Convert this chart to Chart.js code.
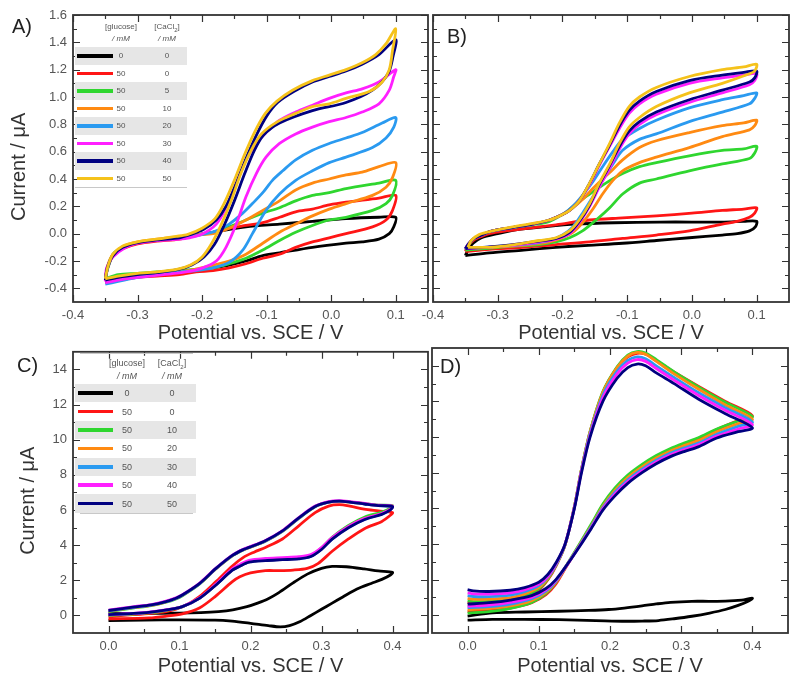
<!DOCTYPE html>
<html>
<head>
<meta charset="utf-8">
<script src="https://cdn.jsdelivr.net/npm/chart.js@4.4.1/dist/chart.umd.min.js"></script>
<style>
  body { margin: 0; background: #fff; width: 800px; height: 685px; position: relative; overflow: hidden; font-family: "Liberation Sans", Arial, sans-serif; }
  canvas { position: absolute; }
  .lbl { position: absolute; font-size: 20px; line-height: 20px; color: #222; z-index: 5; }
</style>
</head>
<body>
<canvas id="grafico_A" width="440" height="345" style="left:0;top:0"></canvas>
<canvas id="grafico_B" width="385" height="345" style="left:415px;top:0"></canvas>
<canvas id="grafico_C" width="440" height="347" style="left:0;top:338px"></canvas>
<canvas id="grafico_D" width="385" height="347" style="left:415px;top:338px"></canvas>
<div class="lbl" style="left:12px;top:16px">A)</div>
<div class="lbl" style="left:447px;top:26px">B)</div>
<div class="lbl" style="left:17px;top:355px">C)</div>
<div class="lbl" style="left:440px;top:356px">D)</div>
<script>
// ---- ticks ----
const xTicksAB = [-0.4, -0.3, -0.2, -0.1, 0.0, 0.1];
const yTicksAB = [-0.4, -0.2, 0.0, 0.2, 0.4, 0.6, 0.8, 1.0, 1.2, 1.4, 1.6];
const xTicksCD = [0.0, 0.1, 0.2, 0.3, 0.4];
const yTicksCD = [0, 2, 4, 6, 8, 10, 12, 14];

// ---- legend text ----
const legGlucoseA = ['0', '50', '50', '50', '50', '50', '50', '50'];
const legCaClA = ['0', '0', '5', '10', '20', '30', '40', '50'];
const legGlucoseC = ['0', '50', '50', '50', '50', '50', '50'];
const legCaClC = ['0', '0', '10', '20', '30', '40', '50'];

// ---- panel A: [potential V, current uA] ----
const A_black = [[-0.35,-0.33],[-0.346,-0.25],[-0.338,-0.16],[-0.323,-0.10],[-0.30,-0.065],[-0.27,-0.045],[-0.235,-0.03],[-0.183,0.01],[-0.132,0.05],[-0.08,0.07],[-0.029,0.09],[0.023,0.11],[0.074,0.12],[0.1,0.12],
  [0.097,0.05],[0.09,0.0],[0.074,-0.04],[0.048,-0.06],[0.023,-0.07],[-0.029,-0.10],[-0.08,-0.14],[-0.106,-0.16],[-0.132,-0.20],[-0.158,-0.23],[-0.183,-0.25],[-0.209,-0.27],[-0.235,-0.28],[-0.27,-0.30],[-0.30,-0.31],[-0.33,-0.33],[-0.35,-0.35]];
const A_red = [[-0.35,-0.34],[-0.346,-0.24],[-0.338,-0.16],[-0.323,-0.11],[-0.30,-0.075],[-0.27,-0.055],[-0.235,-0.04],[-0.209,-0.01],[-0.183,0.01],[-0.158,0.04],[-0.132,0.06],[-0.106,0.08],[-0.08,0.12],[-0.055,0.16],[-0.029,0.18],[-0.003,0.21],[0.023,0.23],[0.074,0.26],[0.1,0.28],
  [0.095,0.17],[0.085,0.10],[0.064,0.05],[0.023,0.0],[-0.003,-0.03],[-0.029,-0.06],[-0.055,-0.10],[-0.08,-0.15],[-0.106,-0.18],[-0.132,-0.22],[-0.158,-0.25],[-0.183,-0.27],[-0.209,-0.28],[-0.235,-0.30],[-0.27,-0.31],[-0.30,-0.32],[-0.33,-0.34],[-0.35,-0.36]];
const A_green = [[-0.35,-0.33],[-0.346,-0.24],[-0.338,-0.15],[-0.323,-0.10],[-0.30,-0.065],[-0.27,-0.045],[-0.235,-0.03],[-0.209,-0.01],[-0.183,0.01],[-0.158,0.05],[-0.132,0.10],[-0.106,0.15],[-0.08,0.19],[-0.055,0.24],[-0.029,0.28],[-0.003,0.30],[0.023,0.33],[0.074,0.37],[0.1,0.39],
  [0.095,0.28],[0.085,0.22],[0.064,0.17],[0.023,0.12],[-0.003,0.10],[-0.029,0.06],[-0.055,0.01],[-0.08,-0.05],[-0.106,-0.12],[-0.132,-0.18],[-0.158,-0.22],[-0.183,-0.25],[-0.209,-0.26],[-0.235,-0.27],[-0.27,-0.28],[-0.30,-0.29],[-0.33,-0.30],[-0.35,-0.33]];
const A_orange = [[-0.35,-0.33],[-0.346,-0.23],[-0.338,-0.15],[-0.323,-0.095],[-0.30,-0.06],[-0.27,-0.04],[-0.235,-0.025],[-0.209,-0.01],[-0.183,0.0],[-0.158,0.04],[-0.132,0.10],[-0.106,0.17],[-0.08,0.24],[-0.055,0.32],[-0.029,0.37],[-0.003,0.40],[0.023,0.43],[0.048,0.45],[0.074,0.49],[0.1,0.52],
  [0.095,0.41],[0.085,0.34],[0.064,0.28],[0.023,0.22],[-0.003,0.18],[-0.029,0.13],[-0.055,0.07],[-0.08,0.01],[-0.106,-0.07],[-0.132,-0.15],[-0.158,-0.20],[-0.183,-0.23],[-0.209,-0.26],[-0.235,-0.28],[-0.27,-0.295],[-0.30,-0.31],[-0.33,-0.33],[-0.35,-0.35]];
const A_blue = [[-0.35,-0.34],[-0.346,-0.24],[-0.338,-0.16],[-0.323,-0.10],[-0.30,-0.065],[-0.27,-0.045],[-0.235,-0.03],[-0.204,-0.01],[-0.178,0.02],[-0.158,0.07],[-0.137,0.15],[-0.122,0.22],[-0.106,0.30],[-0.091,0.39],[-0.075,0.46],[-0.055,0.54],[-0.029,0.61],[-0.003,0.66],[0.023,0.70],[0.048,0.74],[0.079,0.81],[0.1,0.85],
  [0.097,0.78],[0.085,0.70],[0.064,0.63],[0.023,0.56],[-0.003,0.52],[-0.029,0.46],[-0.055,0.39],[-0.08,0.29],[-0.101,0.17],[-0.122,0.0],[-0.137,-0.12],[-0.158,-0.21],[-0.183,-0.25],[-0.209,-0.27],[-0.235,-0.28],[-0.27,-0.30],[-0.30,-0.32],[-0.33,-0.35],[-0.35,-0.37]];
const A_magenta = [[-0.35,-0.35],[-0.348,-0.25],[-0.338,-0.17],[-0.318,-0.10],[-0.30,-0.07],[-0.27,-0.05],[-0.235,-0.04],[-0.22,-0.03],[-0.199,0.0],[-0.178,0.07],[-0.163,0.19],[-0.147,0.37],[-0.132,0.54],[-0.116,0.66],[-0.101,0.74],[-0.08,0.83],[-0.055,0.89],[-0.029,0.94],[-0.003,0.99],[0.023,1.03],[0.048,1.06],[0.074,1.11],[0.1,1.20],
  [0.097,1.15],[0.09,1.05],[0.074,0.95],[0.048,0.89],[0.023,0.85],[-0.003,0.82],[-0.029,0.78],[-0.055,0.73],[-0.08,0.66],[-0.101,0.56],[-0.116,0.44],[-0.132,0.27],[-0.147,0.07],[-0.163,-0.10],[-0.178,-0.20],[-0.199,-0.25],[-0.225,-0.28],[-0.26,-0.30],[-0.30,-0.32],[-0.33,-0.34],[-0.35,-0.36]];
const A_navy = [[-0.35,-0.34],[-0.347,-0.25],[-0.338,-0.16],[-0.323,-0.10],[-0.30,-0.065],[-0.27,-0.045],[-0.235,-0.03],[-0.22,-0.01],[-0.198,0.03],[-0.178,0.10],[-0.163,0.20],[-0.147,0.37],[-0.132,0.55],[-0.116,0.72],[-0.1,0.86],[-0.083,0.96],[-0.058,1.04],[-0.029,1.11],[-0.003,1.15],[0.023,1.19],[0.048,1.24],[0.074,1.31],[0.1,1.42],
  [0.096,1.30],[0.088,1.17],[0.064,1.05],[0.023,0.96],[-0.029,0.90],[-0.08,0.81],[-0.105,0.72],[-0.119,0.61],[-0.134,0.44],[-0.15,0.24],[-0.166,0.06],[-0.181,-0.08],[-0.197,-0.17],[-0.216,-0.23],[-0.235,-0.26],[-0.27,-0.285],[-0.30,-0.30],[-0.33,-0.32],[-0.35,-0.34]];
const A_yellow = [[-0.35,-0.33],[-0.346,-0.24],[-0.338,-0.15],[-0.323,-0.09],[-0.30,-0.06],[-0.27,-0.04],[-0.24,-0.02],[-0.222,-0.005],[-0.2,0.04],[-0.18,0.11],[-0.166,0.22],[-0.15,0.39],[-0.135,0.57],[-0.119,0.74],[-0.102,0.88],[-0.084,0.97],[-0.06,1.05],[-0.029,1.12],[-0.003,1.16],[0.023,1.20],[0.048,1.25],[0.069,1.31],[0.085,1.39],[0.1,1.50],
  [0.095,1.34],[0.09,1.20],[0.079,1.11],[0.059,1.04],[0.023,0.99],[-0.003,0.95],[-0.029,0.93],[-0.055,0.88],[-0.083,0.82],[-0.108,0.73],[-0.124,0.61],[-0.14,0.44],[-0.155,0.24],[-0.17,0.07],[-0.185,-0.07],[-0.2,-0.17],[-0.218,-0.23],[-0.238,-0.26],[-0.27,-0.28],[-0.30,-0.29],[-0.33,-0.31],[-0.35,-0.33]];

// ---- panel B ----
const B_black = [[-0.35,-0.16],[-0.345,-0.11],[-0.338,-0.07],[-0.325,-0.03],[-0.30,0.0],[-0.27,0.03],[-0.23,0.05],[-0.18,0.07],[-0.12,0.08],[-0.05,0.085],[0.0,0.085],[0.05,0.085],[0.08,0.09],[0.1,0.09],
  [0.098,0.05],[0.089,0.02],[0.07,0.0],[0.047,-0.01],[-0.004,-0.03],[-0.055,-0.05],[-0.107,-0.07],[-0.16,-0.085],[-0.21,-0.10],[-0.26,-0.12],[-0.313,-0.14],[-0.35,-0.16]];
const B_red = [[-0.35,-0.13],[-0.346,-0.09],[-0.338,-0.05],[-0.325,-0.02],[-0.313,0.0],[-0.287,0.02],[-0.261,0.035],[-0.21,0.065],[-0.158,0.10],[-0.107,0.115],[-0.055,0.13],[0.0,0.15],[0.047,0.17],[0.08,0.18],[0.1,0.19],
  [0.097,0.15],[0.089,0.12],[0.07,0.09],[0.047,0.07],[-0.004,0.02],[-0.055,-0.01],[-0.107,-0.035],[-0.158,-0.06],[-0.21,-0.08],[-0.261,-0.10],[-0.313,-0.115],[-0.35,-0.13]];
const B_green = [[-0.35,-0.12],[-0.346,-0.09],[-0.338,-0.04],[-0.325,-0.01],[-0.308,0.02],[-0.277,0.045],[-0.246,0.065],[-0.22,0.09],[-0.194,0.16],[-0.179,0.22],[-0.158,0.29],[-0.133,0.37],[-0.107,0.44],[-0.081,0.49],[-0.055,0.52],[-0.004,0.57],[0.047,0.61],[0.08,0.62],[0.1,0.64],
  [0.097,0.59],[0.089,0.55],[0.047,0.51],[-0.004,0.46],[-0.055,0.40],[-0.081,0.37],[-0.107,0.29],[-0.127,0.19],[-0.148,0.10],[-0.169,0.02],[-0.189,-0.03],[-0.21,-0.06],[-0.236,-0.08],[-0.27,-0.09],[-0.31,-0.105],[-0.35,-0.12]];
const B_orange = [[-0.35,-0.11],[-0.346,-0.08],[-0.338,-0.04],[-0.325,-0.01],[-0.308,0.02],[-0.277,0.045],[-0.246,0.07],[-0.22,0.10],[-0.2,0.14],[-0.184,0.19],[-0.169,0.25],[-0.153,0.33],[-0.138,0.40],[-0.122,0.47],[-0.107,0.54],[-0.081,0.63],[-0.055,0.68],[-0.004,0.74],[0.047,0.79],[0.08,0.81],[0.1,0.83],
  [0.097,0.79],[0.089,0.76],[0.047,0.71],[-0.004,0.63],[-0.055,0.56],[-0.081,0.52],[-0.107,0.46],[-0.122,0.39],[-0.138,0.29],[-0.153,0.18],[-0.169,0.08],[-0.184,0.01],[-0.2,-0.03],[-0.22,-0.06],[-0.25,-0.08],[-0.29,-0.095],[-0.35,-0.11]];
const B_blue = [[-0.35,-0.11],[-0.346,-0.08],[-0.338,-0.04],[-0.325,-0.01],[-0.308,0.02],[-0.277,0.045],[-0.246,0.07],[-0.22,0.10],[-0.2,0.14],[-0.184,0.20],[-0.169,0.28],[-0.153,0.38],[-0.138,0.49],[-0.122,0.60],[-0.107,0.69],[-0.081,0.77],[-0.055,0.83],[-0.004,0.92],[0.047,0.98],[0.08,1.01],[0.1,1.03],
  [0.097,0.99],[0.089,0.95],[0.047,0.89],[-0.004,0.82],[-0.055,0.73],[-0.081,0.69],[-0.107,0.61],[-0.122,0.51],[-0.138,0.39],[-0.153,0.27],[-0.169,0.15],[-0.184,0.05],[-0.2,-0.01],[-0.22,-0.05],[-0.25,-0.075],[-0.29,-0.09],[-0.35,-0.11]];
const B_magenta = [[-0.35,-0.11],[-0.346,-0.08],[-0.338,-0.04],[-0.325,-0.01],[-0.308,0.02],[-0.277,0.045],[-0.246,0.07],[-0.22,0.10],[-0.2,0.14],[-0.189,0.17],[-0.174,0.24],[-0.158,0.36],[-0.143,0.50],[-0.127,0.64],[-0.112,0.77],[-0.097,0.88],[-0.081,0.95],[-0.055,1.02],[-0.004,1.10],[0.047,1.14],[0.08,1.16],[0.1,1.17],
  [0.097,1.12],[0.089,1.09],[0.047,1.03],[-0.004,0.96],[-0.055,0.87],[-0.081,0.80],[-0.097,0.73],[-0.112,0.62],[-0.127,0.48],[-0.143,0.34],[-0.158,0.20],[-0.174,0.08],[-0.189,0.0],[-0.21,-0.04],[-0.236,-0.06],[-0.287,-0.09],[-0.35,-0.11]];
const B_navy = [[-0.35,-0.11],[-0.346,-0.08],[-0.338,-0.04],[-0.325,-0.01],[-0.308,0.02],[-0.277,0.045],[-0.246,0.07],[-0.22,0.10],[-0.2,0.14],[-0.189,0.17],[-0.174,0.24],[-0.158,0.37],[-0.143,0.51],[-0.127,0.65],[-0.112,0.79],[-0.097,0.90],[-0.081,0.97],[-0.055,1.04],[-0.004,1.12],[0.047,1.16],[0.08,1.18],[0.1,1.19],
  [0.097,1.14],[0.089,1.11],[0.047,1.05],[-0.004,0.98],[-0.055,0.89],[-0.081,0.82],[-0.097,0.75],[-0.112,0.64],[-0.127,0.50],[-0.143,0.36],[-0.158,0.21],[-0.174,0.09],[-0.189,0.01],[-0.21,-0.035],[-0.236,-0.055],[-0.287,-0.085],[-0.35,-0.11]];
const B_yellow = [[-0.346,-0.10],[-0.341,-0.05],[-0.328,-0.005],[-0.308,0.02],[-0.277,0.05],[-0.246,0.075],[-0.22,0.10],[-0.2,0.14],[-0.189,0.17],[-0.174,0.24],[-0.158,0.37],[-0.143,0.51],[-0.127,0.66],[-0.112,0.81],[-0.097,0.93],[-0.081,1.00],[-0.055,1.07],[-0.004,1.15],[0.047,1.20],[0.08,1.22],[0.1,1.24],
  [0.097,1.19],[0.089,1.17],[0.047,1.10],[-0.004,1.03],[-0.055,0.93],[-0.081,0.85],[-0.097,0.78],[-0.112,0.66],[-0.127,0.51],[-0.143,0.37],[-0.158,0.22],[-0.174,0.10],[-0.189,0.02],[-0.21,-0.03],[-0.236,-0.05],[-0.287,-0.09],[-0.313,-0.10],[-0.346,-0.10]];

// ---- panel C ----
const C_black = [[0,0.1],[0.05,0.12],[0.1,0.13],[0.13,0.16],[0.155,0.22],[0.175,0.32],[0.195,0.5],[0.21,0.7],[0.225,0.95],[0.24,1.3],[0.26,1.85],[0.28,2.35],[0.3,2.68],[0.315,2.79],[0.335,2.77],[0.36,2.65],[0.38,2.53],[0.4,2.45],
  [0.397,2.3],[0.385,2.05],[0.37,1.82],[0.35,1.5],[0.33,1.05],[0.315,0.7],[0.3,0.35],[0.285,0.0],[0.27,-0.35],[0.255,-0.58],[0.242,-0.65],[0.225,-0.58],[0.2,-0.45],[0.174,-0.33],[0.15,-0.27],[0.1,-0.25],[0.05,-0.26],[0,-0.3]];
const C_red = [[0,-0.05],[0.034,0.04],[0.06,0.12],[0.081,0.22],[0.095,0.35],[0.11,0.6],[0.128,1.07],[0.151,1.91],[0.174,2.8],[0.19,3.3],[0.205,3.6],[0.221,3.87],[0.245,4.35],[0.268,5.1],[0.291,5.85],[0.31,6.22],[0.325,6.3],[0.34,6.22],[0.36,6.05],[0.38,5.95],[0.4,5.85],
  [0.397,5.7],[0.385,5.35],[0.361,4.95],[0.338,4.35],[0.315,3.65],[0.295,2.95],[0.28,2.68],[0.26,2.58],[0.24,2.55],[0.221,2.55],[0.2,2.42],[0.185,2.2],[0.174,1.91],[0.151,1.1],[0.128,0.42],[0.104,0.09],[0.08,-0.05],[0.057,-0.14],[0,-0.2]];
const C_green = [[0,0.22],[0.034,0.42],[0.06,0.56],[0.081,0.75],[0.095,0.94],[0.104,1.12],[0.128,1.78],[0.151,2.64],[0.174,3.38],[0.19,3.73],[0.198,3.85],[0.221,4.22],[0.245,4.78],[0.268,5.52],[0.291,6.18],[0.31,6.44],[0.325,6.5],[0.34,6.46],[0.361,6.36],[0.38,6.28],[0.4,6.25],
  [0.397,6.1],[0.385,5.88],[0.361,5.6],[0.338,5.12],[0.315,4.45],[0.3,3.85],[0.285,3.42],[0.268,3.3],[0.245,3.24],[0.221,3.18],[0.198,3.08],[0.185,2.85],[0.174,2.6],[0.151,1.75],[0.128,0.98],[0.104,0.5],[0.08,0.28],[0.057,0.14],[0.03,0.06],[0,0.0]];
const C_orange = [[0,0.24],[0.034,0.44],[0.06,0.57],[0.081,0.77],[0.095,0.96],[0.104,1.14],[0.128,1.8],[0.151,2.65],[0.174,3.39],[0.19,3.74],[0.198,3.86],[0.221,4.23],[0.245,4.8],[0.268,5.54],[0.291,6.19],[0.31,6.44],[0.325,6.49],[0.34,6.45],[0.361,6.35],[0.38,6.26],[0.4,6.22],
  [0.397,6.05],[0.385,5.8],[0.361,5.52],[0.338,5.05],[0.315,4.4],[0.3,3.8],[0.285,3.38],[0.268,3.26],[0.245,3.2],[0.221,3.15],[0.198,3.05],[0.185,2.82],[0.174,2.58],[0.151,1.74],[0.128,0.98],[0.104,0.5],[0.08,0.29],[0.057,0.16],[0.03,0.08],[0,0.02]];
const C_blue = [[0,0.26],[0.034,0.45],[0.06,0.59],[0.081,0.78],[0.095,0.97],[0.104,1.15],[0.128,1.8],[0.151,2.66],[0.174,3.4],[0.19,3.75],[0.198,3.87],[0.221,4.24],[0.245,4.8],[0.268,5.54],[0.291,6.2],[0.31,6.45],[0.325,6.5],[0.34,6.45],[0.361,6.34],[0.38,6.25],[0.4,6.2],
  [0.397,6.02],[0.385,5.77],[0.361,5.48],[0.338,5.01],[0.315,4.36],[0.3,3.77],[0.285,3.36],[0.268,3.24],[0.245,3.19],[0.221,3.14],[0.198,3.04],[0.185,2.81],[0.174,2.57],[0.151,1.73],[0.128,0.97],[0.104,0.5],[0.08,0.3],[0.057,0.17],[0.03,0.09],[0,0.03]];
const C_magenta = [[0,0.3],[0.034,0.49],[0.06,0.62],[0.081,0.81],[0.095,1.0],[0.104,1.18],[0.128,1.83],[0.151,2.68],[0.174,3.42],[0.19,3.77],[0.198,3.89],[0.221,4.27],[0.245,4.83],[0.268,5.57],[0.291,6.22],[0.31,6.48],[0.325,6.53],[0.34,6.48],[0.361,6.37],[0.38,6.27],[0.4,6.22],
  [0.397,6.04],[0.385,5.8],[0.361,5.52],[0.338,5.06],[0.315,4.43],[0.3,3.86],[0.285,3.46],[0.268,3.34],[0.245,3.29],[0.221,3.24],[0.198,3.13],[0.185,2.9],[0.174,2.64],[0.151,1.77],[0.128,0.99],[0.104,0.51],[0.08,0.31],[0.057,0.18],[0.03,0.11],[0,0.05]];
const C_navy = [[0,0.28],[0.034,0.47],[0.06,0.6],[0.081,0.79],[0.095,0.98],[0.104,1.16],[0.128,1.81],[0.151,2.66],[0.174,3.4],[0.19,3.75],[0.198,3.87],[0.221,4.25],[0.245,4.81],[0.268,5.55],[0.291,6.2],[0.31,6.45],[0.325,6.5],[0.34,6.45],[0.361,6.34],[0.38,6.25],[0.4,6.2],
  [0.397,6.0],[0.385,5.75],[0.361,5.46],[0.338,4.99],[0.315,4.34],[0.3,3.75],[0.285,3.35],[0.268,3.22],[0.245,3.17],[0.221,3.12],[0.198,3.03],[0.185,2.8],[0.174,2.56],[0.151,1.72],[0.128,0.97],[0.104,0.5],[0.08,0.3],[0.057,0.17],[0.03,0.1],[0,0.04]];

// ---- panel D ----
const D_black = [[0,-0.05],[0.035,0.13],[0.08,0.18],[0.128,0.22],[0.17,0.27],[0.198,0.32],[0.22,0.4],[0.245,0.52],[0.265,0.63],[0.285,0.72],[0.315,0.78],[0.34,0.78],[0.362,0.79],[0.385,0.85],[0.4,0.95],
  [0.394,0.78],[0.38,0.55],[0.362,0.32],[0.34,0.12],[0.315,-0.06],[0.29,-0.2],[0.268,-0.3],[0.245,-0.33],[0.222,-0.34],[0.18,-0.3],[0.128,-0.25],[0.08,-0.24],[0.035,-0.24],[0,-0.28]];
const D_red = [[0,0.7],[0.008,0.66],[0.03,0.68],[0.06,0.8],[0.08,1.02],[0.1,1.42],[0.113,2.0],[0.125,2.83],[0.137,3.95],[0.15,6.08],[0.16,8.18],[0.172,10.28],[0.19,12.5],[0.21,13.9],[0.225,14.5],[0.238,14.7],[0.25,14.65],[0.265,14.3],[0.29,13.65],[0.324,12.85],[0.362,12.0],[0.4,11.2],
  [0.38,10.92],[0.35,10.42],[0.324,9.92],[0.305,9.62],[0.285,9.3],[0.265,8.9],[0.245,8.4],[0.225,7.8],[0.207,7.08],[0.19,6.18],[0.175,5.14],[0.158,4.0],[0.14,2.82],[0.124,1.75],[0.11,1.15],[0.09,0.7],[0.06,0.4],[0.03,0.26],[0,0.2]];
const D_green = [[0,0.8],[0.008,0.76],[0.03,0.77],[0.06,0.88],[0.08,1.1],[0.1,1.48],[0.113,2.05],[0.125,2.86],[0.137,3.97],[0.15,6.1],[0.16,8.2],[0.172,10.3],[0.19,12.55],[0.21,13.95],[0.225,14.6],[0.238,14.8],[0.25,14.72],[0.265,14.35],[0.29,13.65],[0.324,12.82],[0.362,11.95],[0.4,11.15],
  [0.38,10.9],[0.35,10.45],[0.324,9.96],[0.305,9.68],[0.285,9.36],[0.265,8.96],[0.245,8.46],[0.225,7.86],[0.207,7.14],[0.19,6.24],[0.175,5.2],[0.158,4.05],[0.14,2.88],[0.124,1.85],[0.11,1.22],[0.09,0.72],[0.06,0.38],[0.03,0.2],[0,0.12]];
const D_orange = [[0,0.95],[0.008,0.9],[0.03,0.9],[0.06,0.98],[0.08,1.2],[0.1,1.56],[0.113,2.1],[0.125,2.88],[0.137,3.97],[0.15,6.1],[0.16,8.2],[0.172,10.3],[0.19,12.5],[0.21,13.9],[0.225,14.55],[0.238,14.75],[0.25,14.65],[0.265,14.25],[0.29,13.55],[0.324,12.7],[0.362,11.8],[0.4,11.0],
  [0.38,10.75],[0.35,10.3],[0.324,9.8],[0.305,9.53],[0.285,9.22],[0.265,8.82],[0.245,8.32],[0.225,7.72],[0.207,7.0],[0.19,6.12],[0.175,5.1],[0.158,3.98],[0.14,2.84],[0.124,1.85],[0.11,1.28],[0.09,0.82],[0.06,0.52],[0.03,0.38],[0,0.3]];
const D_blue = [[0,1.1],[0.008,1.05],[0.03,1.04],[0.06,1.12],[0.08,1.32],[0.1,1.66],[0.113,2.15],[0.125,2.9],[0.137,3.98],[0.15,6.05],[0.16,8.15],[0.172,10.2],[0.19,12.35],[0.21,13.7],[0.225,14.3],[0.238,14.5],[0.25,14.4],[0.265,14.0],[0.29,13.35],[0.324,12.5],[0.362,11.65],[0.4,10.85],
  [0.38,10.6],[0.35,10.15],[0.324,9.66],[0.305,9.4],[0.285,9.1],[0.265,8.7],[0.245,8.2],[0.225,7.6],[0.207,6.9],[0.19,6.04],[0.175,5.05],[0.158,3.95],[0.14,2.84],[0.124,1.9],[0.11,1.35],[0.09,0.92],[0.06,0.62],[0.03,0.48],[0,0.42]];
const D_magenta = [[0,1.25],[0.008,1.2],[0.03,1.18],[0.06,1.25],[0.08,1.42],[0.1,1.75],[0.113,2.2],[0.125,2.95],[0.137,4.0],[0.15,6.05],[0.16,8.1],[0.172,10.1],[0.19,12.2],[0.21,13.55],[0.225,14.15],[0.238,14.35],[0.25,14.25],[0.265,13.85],[0.29,13.2],[0.324,12.35],[0.362,11.5],[0.4,10.7],
  [0.38,10.45],[0.35,10.05],[0.324,9.56],[0.305,9.3],[0.285,9.0],[0.265,8.6],[0.245,8.1],[0.225,7.5],[0.207,6.8],[0.19,5.97],[0.175,5.0],[0.158,3.92],[0.14,2.84],[0.124,1.95],[0.11,1.42],[0.09,1.0],[0.06,0.72],[0.03,0.57],[0,0.5]];
const D_navy = [[0,1.43],[0.008,1.36],[0.03,1.33],[0.06,1.4],[0.08,1.55],[0.1,1.85],[0.113,2.3],[0.125,3.0],[0.137,4.0],[0.15,6.0],[0.16,8.0],[0.172,10.0],[0.19,12.0],[0.21,13.3],[0.225,13.9],[0.238,14.1],[0.25,14.0],[0.265,13.6],[0.29,13.0],[0.324,12.14],[0.362,11.31],[0.4,10.52],
  [0.38,10.3],[0.35,9.95],[0.324,9.45],[0.305,9.2],[0.285,8.9],[0.265,8.5],[0.245,8.0],[0.225,7.4],[0.207,6.7],[0.19,5.9],[0.175,4.95],[0.158,3.9],[0.14,2.85],[0.124,2.0],[0.11,1.5],[0.09,1.1],[0.06,0.85],[0.03,0.7],[0,0.62]];

const coloresAB = ['#000000', '#ff1515', '#2fd62f', '#ff8a12', '#2a9af0', '#ff1fff', '#000080', '#f5c21b'];
const coloresCD = coloresAB.slice(0, 7);

Chart.defaults.font.family = "'Liberation Sans', Arial, sans-serif";

// marcos y ticks hacia adentro en los cuatro lados
const marcoTicks = {
    id: 'marcoTicks',
    afterDraw(chart, args, opts) {
        const { ctx, chartArea: a, scales: { x, y } } = chart;
        const mid = arr => arr.slice(1).map((v, i) => (v + arr[i]) / 2);
        ctx.save();
        ctx.strokeStyle = '#333';
        ctx.lineWidth = 1.2;
        ctx.beginPath();
        const tx = (v, len) => {
            const p = Math.round(x.getPixelForValue(v)) + 0.5;
            ctx.moveTo(p, a.bottom); ctx.lineTo(p, a.bottom - len);
            ctx.moveTo(p, a.top); ctx.lineTo(p, a.top + len);
        };
        const ty = (v, len) => {
            const p = Math.round(y.getPixelForValue(v)) + 0.5;
            ctx.moveTo(a.left, p); ctx.lineTo(a.left + len, p);
            ctx.moveTo(a.right, p); ctx.lineTo(a.right - len, p);
        };
        opts.xMajor.forEach(v => tx(v, 7));
        mid(opts.xMajor).forEach(v => tx(v, 4));
        opts.yMajor.forEach(v => ty(v, 7));
        mid(opts.yMajor).forEach(v => ty(v, 4));
        ctx.stroke();
        ctx.lineWidth = 1.8;
        ctx.strokeRect(a.left, a.top, a.right - a.left, a.bottom - a.top);
        ctx.restore();
    }
};

function puntos(arr) {
    return arr.map(p => ({ x: p[0], y: p[1] }));
}

function panel(id, curvas, colores, c) {
    new Chart(document.getElementById(id), {
        type: 'scatter',
        data: {
            datasets: curvas.map((cv, i) => ({
                data: puntos(cv),
                borderColor: colores[i],
                backgroundColor: colores[i],
                showLine: true,
                pointRadius: 0,
                borderWidth: 2.8,
                tension: 0.3,
                fill: false,
                order: curvas.length - i   // la ultima serie queda arriba
            }))
        },
        plugins: [marcoTicks],
        options: {
            responsive: false,
            animation: false,
            devicePixelRatio: 1,
            events: [],
            layout: { padding: { left: 0, top: c.padTop, right: c.padRight, bottom: 0 } },
            plugins: {
                legend: { display: false },
                tooltip: { enabled: false },
                marcoTicks: { xMajor: c.xTicks, yMajor: c.yTicks }
            },
            scales: {
                x: {
                    type: 'linear',
                    min: c.xMin, max: c.xMax,
                    afterBuildTicks: s => { s.ticks = c.xTicks.map(v => ({ value: v })); },
                    afterFit: s => { s.height = c.xH; },
                    grid: { display: false, drawTicks: false },
                    border: { display: false },
                    ticks: { color: '#555', font: { size: 13 }, padding: 6, maxRotation: 0, autoSkip: false,
                             callback: v => v.toFixed(1) },
                    title: { display: true, text: 'Potential vs. SCE / V', color: '#333',
                             font: { size: 20 }, padding: { top: 0, bottom: c.xTitlePad } }
                },
                y: {
                    type: 'linear',
                    min: c.yMin, max: c.yMax,
                    afterBuildTicks: s => { s.ticks = c.yTicks.map(v => ({ value: v })); },
                    afterFit: s => { s.width = c.yW; },
                    grid: { display: false, drawTicks: false },
                    border: { display: false },
                    ticks: { display: c.yLabels, color: '#555', font: { size: 13 }, padding: 6,
                             callback: v => v.toFixed(c.yDec) },
                    // espacios finales: bajan el titulo unos px como en la figura
                    title: { display: c.yLabels, text: 'Current / μA\u00a0\u00a0\u00a0', color: '#333',
                             font: { size: 20 }, padding: { top: c.yTitlePad, bottom: 0 } }
                }
            }
        }
    });
}

function leyenda(g, glu, ca, colores) {
    const add = (css, html) => {
        const d = document.createElement('div');
        d.style.cssText = 'position:absolute;z-index:4;' + css;
        if (html) d.innerHTML = html;
        document.body.appendChild(d);
    };
    const txt = 'color:#555;font-size:' + g.fs + 'px;text-align:center;width:50px;';
    add(txt + `left:${g.col1 - 25}px;top:${g.hdrTop}px;line-height:${g.hdrLH}px`, '[glucose]<br><i>/ mM</i>');
    add(txt + `left:${g.col2 - 25}px;top:${g.hdrTop}px;line-height:${g.hdrLH}px`, '[CaCl<sub style="font-size:6px;line-height:0">2</sub>]<br><i>/ mM</i>');
    if (g.topLine) add(`left:${g.lineX0}px;width:${g.lineX1 - g.lineX0}px;top:${g.topLine}px;height:1px;background:#c8c8c8`);
    glu.forEach((t, i) => {
        const top = g.rowTop + i * g.rowH;
        const cy = top + g.rowH / 2;
        if (i % 2 === 0) add(`left:${g.bandL}px;width:${g.bandR - g.bandL}px;top:${top}px;height:${g.rowH}px;background:#e6e6e6`);
        add(`left:${g.sampleL}px;width:${g.sampleR - g.sampleL}px;top:${cy - 1.75}px;height:3.5px;background:${colores[i]}`);
        add(txt + `left:${g.col1 - 25}px;top:${cy - 7}px;line-height:14px`, t);
        add(txt + `left:${g.col2 - 25}px;top:${cy - 7}px;line-height:14px`, ca[i]);
    });
    add(`left:${g.lineX0}px;width:${g.lineX1 - g.lineX0}px;top:${g.rowTop + glu.length * g.rowH}px;height:1px;background:#c8c8c8`);
}

panel('grafico_A', [A_black, A_red, A_green, A_orange, A_blue, A_magenta, A_navy, A_yellow], coloresAB,
    { padTop: 15, padRight: 12, xMin: -0.4, xMax: 0.15, yMin: -0.5, yMax: 1.6, xTicks: xTicksAB, yTicks: yTicksAB,
      xH: 43, yW: 73, xTitlePad: 0, yTitlePad: 7, yLabels: true, yDec: 1 });
panel('grafico_B', [B_black, B_red, B_green, B_orange, B_blue, B_magenta, B_navy, B_yellow], coloresAB,
    { padTop: 15, padRight: 11, xMin: -0.4, xMax: 0.15, yMin: -0.5, yMax: 1.6, xTicks: xTicksAB, yTicks: yTicksAB,
      xH: 43, yW: 18, xTitlePad: 0, yTitlePad: 0, yLabels: false, yDec: 1 });
panel('grafico_C', [C_black, C_red, C_green, C_orange, C_blue, C_magenta, C_navy], coloresCD,
    { padTop: 10, padRight: 12, xMin: -0.05, xMax: 0.45, yMin: -1, yMax: 15, xTicks: xTicksCD, yTicks: yTicksCD,
      xH: 52, yW: 73, xTitlePad: 7, yTitlePad: 16, yLabels: true, yDec: 0 });
panel('grafico_D', [D_black, D_red, D_green, D_orange, D_blue, D_magenta, D_navy], coloresCD,
    { padTop: 10, padRight: 12, xMin: -0.05, xMax: 0.45, yMin: -1, yMax: 15, xTicks: xTicksCD, yTicks: yTicksCD,
      xH: 52, yW: 17, xTitlePad: 7, yTitlePad: 0, yLabels: false, yDec: 0 });

leyenda({ fs: 8, col1: 121, col2: 167, hdrTop: 20.5, hdrLH: 12.6, rowTop: 47.3, rowH: 17.5,
          bandL: 75, bandR: 187, sampleL: 77, sampleR: 113, lineX0: 75, lineX1: 187, topLine: 0 },
        legGlucoseA, legCaClA, coloresAB);
leyenda({ fs: 9, col1: 127, col2: 172, hdrTop: 357, hdrLH: 12.5, rowTop: 384, rowH: 18.4,
          bandL: 75, bandR: 196, sampleL: 78, sampleR: 113, lineX0: 80, lineX1: 193, topLine: 353 },
        legGlucoseC, legCaClC, coloresCD);
</script>
</body>
</html>
